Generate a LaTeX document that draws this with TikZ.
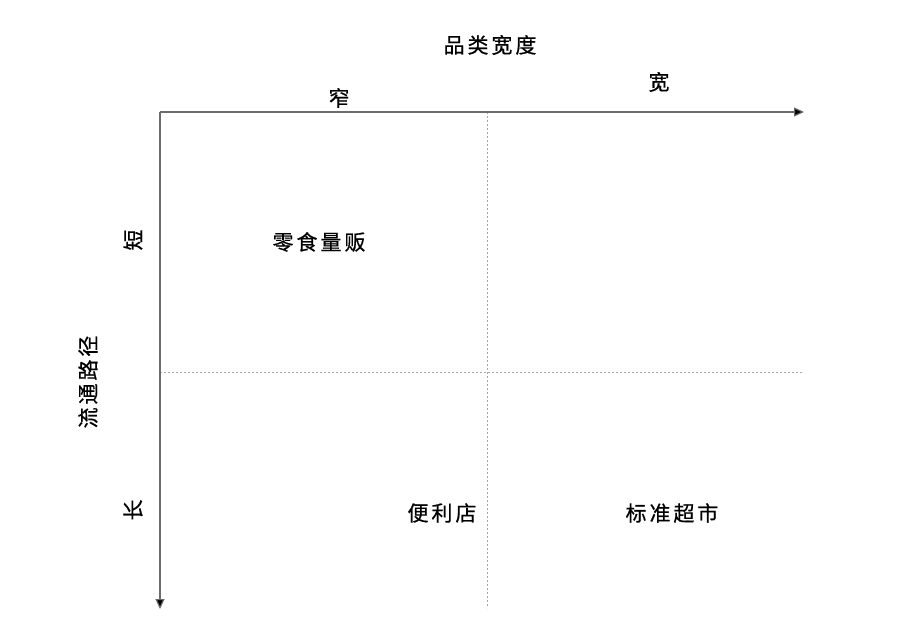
\documentclass[tikz,border=0pt]{standalone}
\usepackage{fontspec}
\newfontfamily\cjk[LetterSpace=14,FakeBold=0.6]{Noto Sans CJK SC}
\usetikzlibrary{arrows.meta}
\tikzset{
  lbl/.style={font=\cjk\fontsize{21}{24}\selectfont, text=black, inner sep=0pt},
  axis/.style={draw=gray!85!black, line width=1.1pt, -{Triangle[length=10pt,width=9pt,fill=black]}},
  grid/.style={draw=gray!70, line width=0.9pt, dash pattern=on 2pt off 2pt}
}
\begin{document}
\begin{tikzpicture}[x=1pt,y=-1pt]
\useasboundingbox[fill=white] (0,0) rectangle (924,644);
\coordinate (o) at (160,112);
\coordinate (xe) at (804,112);
\coordinate (ye) at (160,609);
\coordinate (vt) at (487,112);
\coordinate (vb) at (487,608);
\coordinate (hl) at (160,372);
\coordinate (hr) at (803,372);
\draw[grid] (vt) -- (vb);
\draw[grid] (hl) -- (hr);
\draw[axis] (o) -- (xe);
\draw[axis] (o) -- (ye);
\node[lbl] (t1) at (490,45) {品类宽度};
\node[lbl] (t2) at (339,98) {窄};
\node[lbl] (t3) at (659,82) {宽};
\node[lbl,rotate=90] (t4) at (133,240) {短};
\node[lbl,rotate=90] (t5) at (88,382) {流通路径};
\node[lbl,rotate=90] (t6) at (133,510) {长};
\node[lbl] (t7) at (319,242) {零食量贩};
\node[lbl] (t8) at (442,513) {便利店};
\node[lbl] (t9) at (672,513) {标准超市};
\end{tikzpicture}
\end{document}
